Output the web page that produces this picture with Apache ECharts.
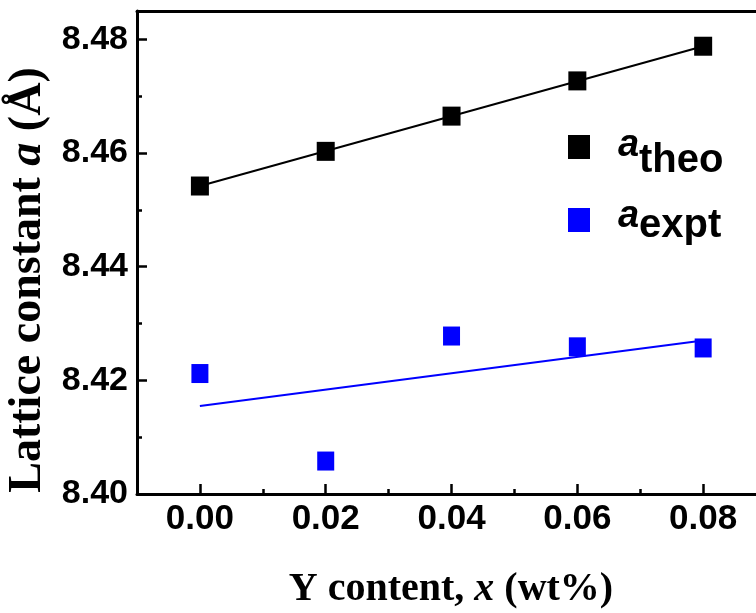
<!DOCTYPE html>
<html>
<head>
<meta charset="utf-8">
<script src="https://cdn.jsdelivr.net/npm/echarts@6/dist/echarts.min.js"></script>
<style>
html,body{margin:0;padding:0;background:#fff;}
#chart{width:756px;height:613px;}
</style>
</head>
<body>
<div id="chart"></div>
<script>
// ---- data ----
const xValues = [0.00, 0.02, 0.04, 0.06, 0.08];
const aTheo = [8.4542, 8.4603, 8.4665, 8.4727, 8.4788];
const aExpt = [8.4212, 8.4058, 8.4278, 8.4259, 8.4257];
const fitX = [0.00, 0.08];
const theoFit = [8.4542, 8.4788];
const exptFit = [8.4155, 8.4270];
const xMajorTicks = [0.00, 0.02, 0.04, 0.06, 0.08];
const xMinorTicks = [0.01, 0.03, 0.05, 0.07];
const yMajorTicks = [8.40, 8.42, 8.44, 8.46, 8.48];
const yMinorTicks = [8.41, 8.43, 8.45, 8.47];
const seriesNames = ['theo', 'expt'];

const SANS = "'Liberation Sans', Arial, sans-serif";
const SERIF = "'Liberation Serif', 'Times New Roman', serif";
// visible window (the right edge of the original frame is cut off by the picture)
const X_MIN = -0.01, X_MAX = 0.0884, Y_MIN = 8.40, Y_MAX = 8.485;
const gridPos = {left: 137, top: 11, right: 0, bottom: 119};

const chart = echarts.init(document.getElementById('chart'), null, {renderer: 'canvas'});
const pairs = (xs, ys) => xs.map((x, i) => [x, ys[i]]);

// legend label text, drawn next to the legend icons
const legendLabels = [];
seriesNames.forEach((name, i) => {
  legendLabels.push({
    type: 'text', x: 618, y: 146 + i * 71, z: 10,
    style: {text: 'a', fontFamily: SANS, fontSize: 38, fontStyle: 'italic', fontWeight: 'bold',
            fill: '#000', align: 'left', verticalAlign: 'middle'}
  });
  legendLabels.push({
    type: 'text', x: 639, y: 161 + i * 65, z: 10,
    style: {text: name, fontFamily: SANS, fontSize: 40, fontWeight: 'bold',
            fill: '#000', align: 'left', verticalAlign: 'middle'}
  });
});

const option = {
  animation: false,
  backgroundColor: '#fff',
  grid: [
    Object.assign({containLabel: false}, gridPos),
    Object.assign({containLabel: false}, gridPos)
  ],
  xAxis: [
    {
      type: 'value', gridIndex: 0, position: 'bottom', min: X_MIN, max: X_MAX,
      axisLine: {show: true, onZero: false, lineStyle: {color: '#000', width: 3}},
      axisTick: {show: true, inside: true, length: 10, lineStyle: {color: '#000', width: 2.5}, customValues: xMajorTicks},
      axisLabel: {show: true, customValues: xMajorTicks, formatter: v => v.toFixed(2),
        fontFamily: SANS, fontSize: 35, fontWeight: 'bold', color: '#000', margin: 8},
      splitLine: {show: false}
    },
    {
      type: 'value', gridIndex: 0, position: 'top', min: X_MIN, max: X_MAX,
      axisLine: {show: true, onZero: false, lineStyle: {color: '#000', width: 3}},
      axisTick: {show: false}, axisLabel: {show: false}, splitLine: {show: false}
    },
    {
      type: 'value', gridIndex: 1, position: 'bottom', min: X_MIN, max: X_MAX,
      axisLine: {show: false, onZero: false},
      axisTick: {show: true, inside: true, length: 5, lineStyle: {color: '#000', width: 2.5}, customValues: xMinorTicks},
      axisLabel: {show: false}, splitLine: {show: false}
    }
  ],
  yAxis: [
    {
      type: 'value', gridIndex: 0, position: 'left', min: Y_MIN, max: Y_MAX,
      axisLine: {show: true, onZero: false, lineStyle: {color: '#000', width: 3}},
      axisTick: {show: true, inside: true, length: 10, lineStyle: {color: '#000', width: 2.5}, customValues: yMajorTicks},
      axisLabel: {show: true, customValues: yMajorTicks, formatter: v => v.toFixed(2),
        fontFamily: SANS, fontSize: 34, fontWeight: 'bold', color: '#000', margin: 9},
      splitLine: {show: false}
    },
    {
      type: 'value', gridIndex: 1, position: 'left', min: Y_MIN, max: Y_MAX,
      axisLine: {show: false, onZero: false},
      axisTick: {show: true, inside: true, length: 5, lineStyle: {color: '#000', width: 2.5}, customValues: yMinorTicks},
      axisLabel: {show: false}, splitLine: {show: false}
    }
  ],
  legend: {
    data: seriesNames,
    orient: 'vertical',
    left: 563,
    top: 130,
    itemWidth: 22,
    itemHeight: 24,
    itemGap: 49,
    icon: 'rect',
    selectedMode: false,
    formatter: () => '',
    textStyle: {fontSize: 10, color: '#000'}
  },
  graphic: [
    {
      type: 'text', x: 28, y: 280, rotation: Math.PI / 2,
      style: {
        text: '{n|Lattice constant }{i|a}{n| (Å)}',
        align: 'center', verticalAlign: 'middle',
        rich: {
          n: {fontFamily: SERIF, fontSize: 46, fontWeight: 'bold', fill: '#000'},
          i: {fontFamily: SERIF, fontSize: 46, fontWeight: 'bold', fontStyle: 'italic', fill: '#000'}
        }
      }
    },
    {
      type: 'text', x: 451, y: 590,
      style: {
        text: '{n|Y content, }{i|x}{n| (wt%)}',
        align: 'center', verticalAlign: 'middle',
        rich: {
          n: {fontFamily: SERIF, fontSize: 40, fontWeight: 'bold', fill: '#000'},
          i: {fontFamily: SERIF, fontSize: 40, fontWeight: 'bold', fontStyle: 'italic', fill: '#000'}
        }
      }
    }
  ].concat(legendLabels),
  series: [
    {
      name: 'theoFit', type: 'line', xAxisIndex: 0, yAxisIndex: 0,
      data: pairs(fitX, theoFit), symbol: 'none',
      lineStyle: {color: '#000', width: 2}, z: 2
    },
    {
      name: 'exptFit', type: 'line', xAxisIndex: 0, yAxisIndex: 0,
      data: pairs(fitX, exptFit), symbol: 'none',
      lineStyle: {color: '#0000ff', width: 2}, z: 2
    },
    {
      name: 'theo', type: 'scatter', xAxisIndex: 0, yAxisIndex: 0,
      data: pairs(xValues, aTheo), symbol: 'rect', symbolSize: [18, 19],
      itemStyle: {color: '#000', opacity: 1}, z: 3
    },
    {
      name: 'expt', type: 'scatter', xAxisIndex: 0, yAxisIndex: 0,
      data: pairs(xValues, aExpt), symbol: 'rect', symbolSize: [17, 19],
      itemStyle: {color: '#0000ff', opacity: 1}, z: 3
    }
  ]
};
chart.setOption(option);
</script>
</body>
</html>
